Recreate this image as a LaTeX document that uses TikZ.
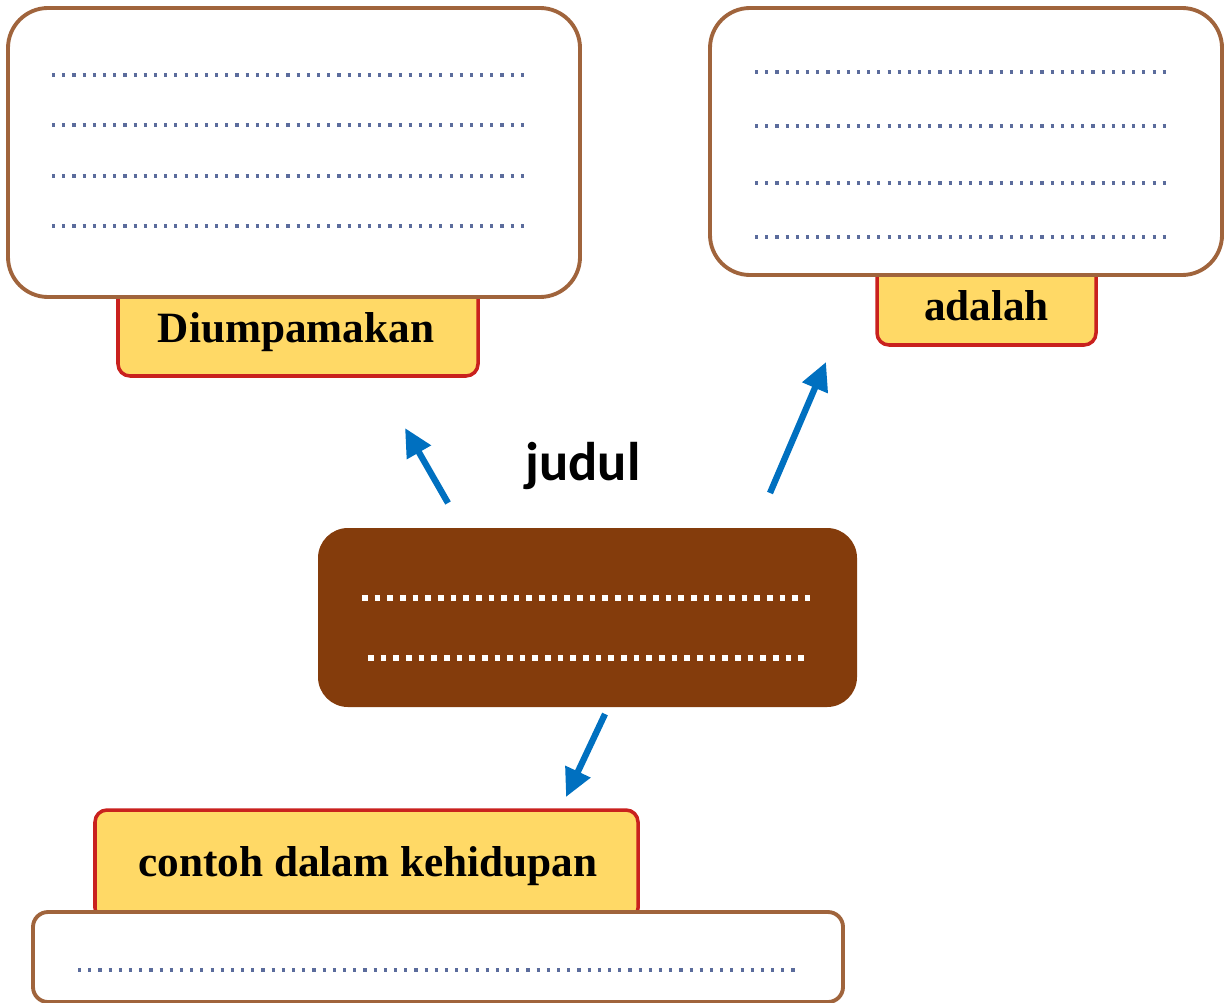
\documentclass[tikz,border=0pt]{standalone}
\usepackage{fontspec}
\setmainfont{Liberation Serif}
\newfontfamily\judulfont{Carlito}
\usetikzlibrary{arrows.meta}
\definecolor{boxbrown}{HTML}{A0643C}
\definecolor{darkbrown}{HTML}{843C0C}
\definecolor{labelyellow}{HTML}{FFD966}
\definecolor{labelred}{HTML}{C9211E}
\definecolor{arrowblue}{HTML}{0070C0}
\definecolor{dotblue}{HTML}{5B6C9C}
\begin{document}
\begin{tikzpicture}[
	whitebox/.style={draw=boxbrown, line width=1.1pt, fill=white, rounded corners=0.4cm},
	labelbox/.style={draw=labelred, line width=1pt, fill=labelyellow, rounded corners=0.12cm},
	labeltext/.style={font=\bfseries\fontsize{12.3}{14}\selectfont},
	dotline/.style={dotted, dotblue, line width=0.9pt},
	pointer/.style={draw=arrowblue, line width=1.8pt, -{Triangle[length=8pt,width=7.5pt]}}
]
	\useasboundingbox (0,0) rectangle (12.28,-10.02);
	%labels behind the boxes
		\node[labelbox, minimum width=3.6cm, minimum height=1.1cm] (umpamabox) at (2.98,-3.21) {};
		\node[labelbox, minimum width=2.19cm, minimum height=1cm] (adalahbox) at (9.865,-2.95) {};
	%top left box
		\node[whitebox, minimum width=5.72cm, minimum height=2.89cm] (umpama) at (2.94,-1.525) {};
		\foreach \y in {0.75,1.25,1.76,2.26}
			\draw[dotline] (0.52,-\y) -- (5.27,-\y);
		\node[labeltext] (umpamatext) at (2.96,-3.32) {Diumpamakan};
	%top right box
		\node[whitebox, minimum width=5.12cm, minimum height=2.67cm] (adalah) at (9.66,-1.415) {};
		\foreach \y in {0.72,1.26,1.83,2.37}
			\draw[dotline] (7.55,-\y) -- (11.68,-\y);
		\node[labeltext] (adalahtext) at (9.865,-3.06) {adalah};
	%centre box
		\node[fill=darkbrown, rounded corners=0.3cm, minimum width=5.39cm, minimum height=1.79cm] (judulbox) at (5.875,-6.175) {};
		\draw[dotted, white, line width=1.6pt] (3.62,-5.98) -- (8.1,-5.98);
		\draw[dotted, white, line width=1.6pt] (3.68,-6.58) -- (8.05,-6.58);
		\node[font=\judulfont\bfseries\fontsize{15.5}{17}\selectfont] (judul) at (5.83,-4.66) {judul};
	%bottom box
		\node[labelbox, minimum width=5.43cm, minimum height=1.1cm] (contohbox) at (3.665,-8.65) {};
		\node[whitebox, rounded corners=0.15cm, minimum width=8.1cm, minimum height=0.9cm] (contoh) at (4.38,-9.57) {};
		\draw[dotline] (0.78,-9.7) -- (7.95,-9.7);
		\node[labeltext] (contohtext) at (3.68,-8.66) {contoh dalam kehidupan};
	%arrows
		\coordinate (p1) at (4.48,-5.03);
		\coordinate (q1) at (4.05,-4.28);
		\coordinate (p2) at (7.7,-4.93);
		\coordinate (q2) at (8.26,-3.62);
		\coordinate (p3) at (6.05,-7.14);
		\coordinate (q3) at (5.66,-7.97);
		\draw[pointer] (p1) -- (q1);
		\draw[pointer] (p2) -- (q2);
		\draw[pointer] (p3) -- (q3);
\end{tikzpicture}
\end{document}
